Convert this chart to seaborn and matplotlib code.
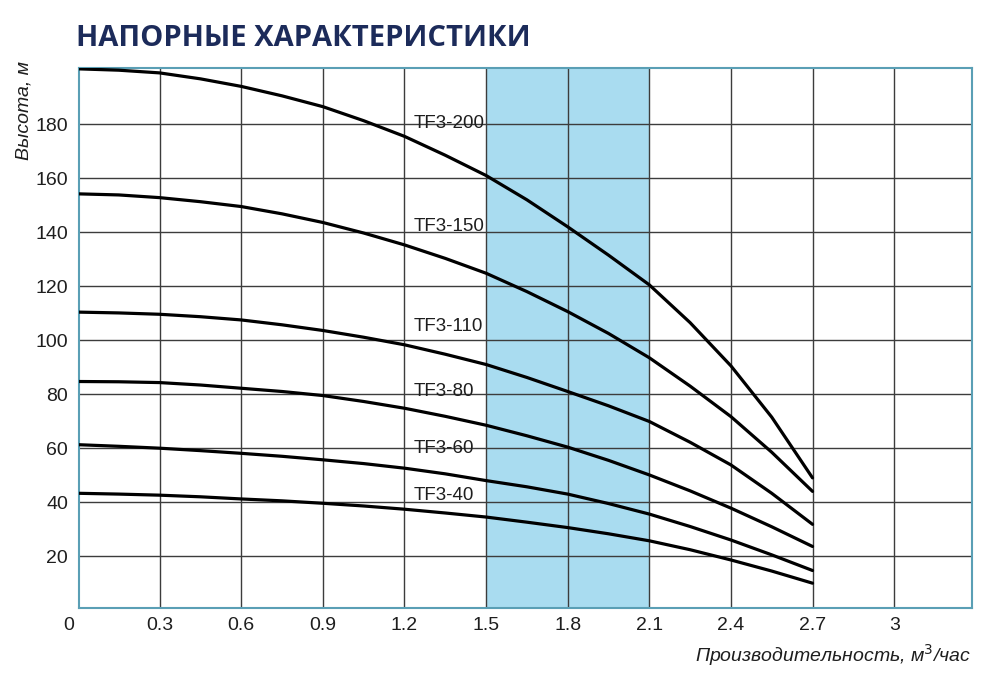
import pandas as pd
import numpy as np
import matplotlib.pyplot as plt
import seaborn as sns

# flow, m3/h (every 0.15)
flow = [0.0, 0.15, 0.3, 0.45, 0.6, 0.75, 0.9, 1.05, 1.2, 1.35, 1.5,
        1.65, 1.8, 1.95, 2.1, 2.25, 2.4, 2.55, 2.7]

# head, m
tf3_200 = [200.5, 200.0, 199.0, 196.8, 194.0, 190.5, 186.5, 181.3, 175.5, 168.5, 161.0,
           152.0, 142.0, 131.5, 120.5, 106.5, 90.5, 71.5, 49.0]
tf3_150 = [154.2, 153.8, 152.8, 151.3, 149.5, 146.8, 143.6, 139.7, 135.3, 130.3, 124.8,
           118.0, 110.6, 102.5, 93.5, 83.0, 71.7, 58.5, 44.0]
tf3_110 = [110.4, 110.1, 109.6, 108.7, 107.5, 105.7, 103.6, 101.1, 98.3, 94.8, 91.0,
           86.2, 81.0, 75.7, 69.9, 62.2, 53.8, 43.3, 31.8]
tf3_80 = [84.7, 84.6, 84.3, 83.4, 82.2, 81.0, 79.5, 77.3, 74.8, 71.8, 68.5,
          64.6, 60.4, 55.5, 50.1, 44.2, 37.8, 30.9, 23.6]
tf3_60 = [61.3, 60.7, 60.0, 59.1, 58.1, 57.0, 55.7, 54.3, 52.6, 50.5, 48.0,
          45.7, 43.0, 39.5, 35.6, 31.0, 26.0, 20.5, 14.7]
tf3_40 = [43.3, 43.0, 42.6, 42.0, 41.2, 40.5, 39.6, 38.6, 37.4, 36.0, 34.5,
          32.6, 30.6, 28.3, 25.7, 22.4, 18.6, 14.5, 10.0]

models = ['TF3-200', 'TF3-150', 'TF3-110', 'TF3-80', 'TF3-60', 'TF3-40']
label_y = [180.4, 142.0, 105.0, 81.0, 60.0, 42.3]
label_x = 1.235

xticks = [0.3, 0.6, 0.9, 1.2, 1.5, 1.8, 2.1, 2.4, 2.7, 3.0]
xticklabels = ['0.3', '0.6', '0.9', '1.2', '1.5', '1.8', '2.1', '2.4', '2.7', '3']
yticks = [20, 40, 60, 80, 100, 120, 140, 160, 180]

band = (1.5, 2.1)

df = pd.concat([
    pd.DataFrame({'flow': flow, 'head': h, 'model': m})
    for m, h in zip(models, [tf3_200, tf3_150, tf3_110, tf3_80, tf3_60, tf3_40])
])

sns.set_theme(style='white')
plt.rcParams['font.family'] = ['Liberation Sans', 'DejaVu Sans']

fig = plt.figure(figsize=(10.04, 6.77), dpi=100)
ax = fig.add_axes([79.3 / 1004, (677 - 608.3) / 677, 892.4 / 1004, 540 / 677])

ax.axvspan(*band, color='#a9dcf0', zorder=0, lw=0)

sns.lineplot(data=df, x='flow', y='head', hue='model',
             palette=['black'] * len(models), linewidth=2.3,
             legend=False, ax=ax, zorder=3)

ax.set_xlim(0.005, 3.285)
ax.set_ylim(0.7, 200.7)
ax.set_xticks(xticks)
ax.set_xticklabels(xticklabels)
ax.set_yticks(yticks)
ax.grid(True, color='#3c3c3c', linewidth=1.0, zorder=1)
ax.set_axisbelow(True)
ax.tick_params(axis='both', length=0, labelsize=14, colors='#1e1e1e')
ax.tick_params(axis='x', pad=6)
ax.tick_params(axis='y', pad=8)
for s in ax.spines.values():
    s.set_color('#5a9fb5')
    s.set_linewidth(1.5)

for m, y in zip(models, label_y):
    ax.text(label_x, y, m, fontsize=13.5, color='#1e1e1e', va='center', ha='left', zorder=4)

ax.annotate('0', xy=(0, 0), xycoords='axes fraction', xytext=(-8, -12.5),
            textcoords='offset points', ha='center', va='center',
            fontsize=14, color='#1e1e1e')

ax.set_xlabel('')
ax.set_ylabel('')
fig.text(971 / 1004, 1 - 655 / 677, 'Производительность, м$^3$/час', ha='right', va='center',
         fontsize=14, style='italic', color='#1e1e1e')
fig.text(24 / 1004, 1 - 110 / 677, 'Высота, м', ha='center', va='center', rotation=90,
         fontsize=14, style='italic', color='#1e1e1e')

fig.text(76 / 1004, 1 - 38 / 677, 'НАПОРНЫЕ ХАРАКТЕРИСТИКИ', ha='left', va='center',
         fontsize=21, fontweight='bold', color='#1c2b5a', family=['Open Sans', 'DejaVu Sans'])

fig.savefig('out.png', dpi=100)
plt.close(fig)
